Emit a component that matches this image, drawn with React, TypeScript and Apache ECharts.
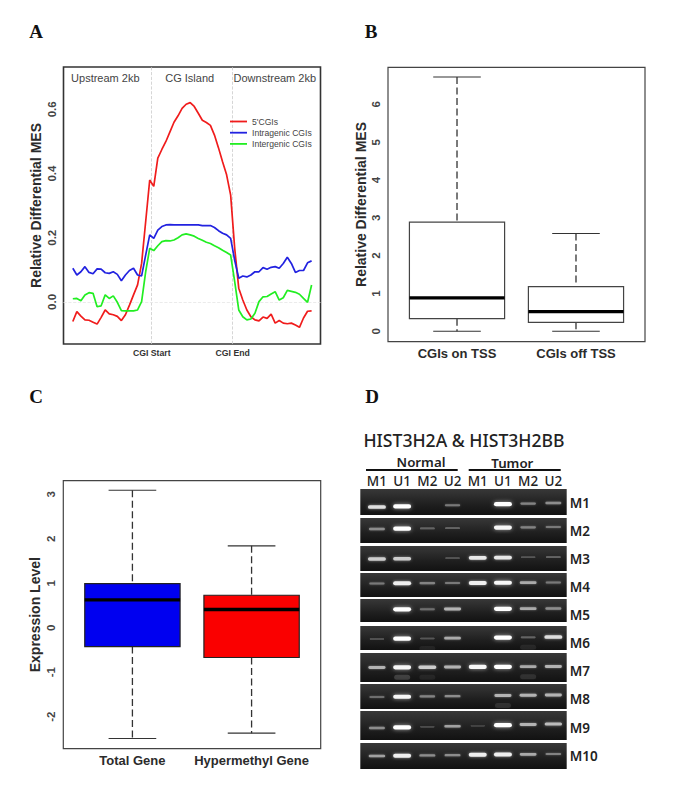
import React, { useEffect, useRef } from "react";
import * as echarts from "echarts";

// Panel A
const redCgi = [-0.061,-0.03,-0.044,-0.056,-0.057,-0.063,-0.069,-0.048,-0.025,-0.037,-0.04,-0.045,-0.058,-0.04,-0.01,0.022,0.053,0.12,0.25,0.38,0.36,0.448,0.475,0.5,0.53,0.56,0.58,0.603,0.616,0.621,0.609,0.588,0.566,0.559,0.55,0.52,0.48,0.437,0.396,0.333,0.167,0.043,0.006,-0.025,-0.046,-0.056,-0.059,-0.047,-0.051,-0.038,-0.066,-0.058,-0.066,-0.068,-0.066,-0.072,-0.079,-0.05,-0.029,-0.028];
const blueCgi = [0.105,0.084,0.094,0.11,0.092,0.088,0.103,0.102,0.091,0.089,0.094,0.086,0.066,0.084,0.098,0.105,0.084,0.081,0.146,0.209,0.198,0.224,0.235,0.24,0.241,0.24,0.24,0.24,0.24,0.24,0.24,0.24,0.238,0.238,0.238,0.232,0.222,0.214,0.209,0.198,0.13,0.074,0.081,0.078,0.084,0.094,0.094,0.107,0.102,0.108,0.11,0.105,0.12,0.139,0.12,0.092,0.098,0.098,0.122,0.128];
const greenCgi = [0.01,0.011,0.004,0.022,0.029,0.027,-0.015,-0.012,0.022,0.011,0.019,-0.001,-0.027,-0.028,-0.028,-0.028,-0.025,0.001,0.094,0.167,0.16,0.175,0.188,0.191,0.19,0.193,0.2,0.209,0.212,0.209,0.205,0.198,0.192,0.186,0.182,0.175,0.169,0.161,0.154,0.146,0.063,-0.025,-0.046,-0.056,-0.053,-0.035,0.001,0.016,0.017,0.025,0.032,0.006,0.013,0.036,0.033,0.03,0.024,0.011,-0.001,0.053];
const seriesNamesA = ["5'CGIs", "Intragenic CGIs", "Intergenic CGIs"];
const regionLabels = ["Upstream 2kb", "CG Island", "Downstream 2kb"];
const cgiMarks = [19.5, 39.5];
const cgiMarkLabels = ["CGI Start", "CGI End"];
const ticksA = [0, 0.2, 0.4, 0.6];

// Panel B: [position, min, Q1, median, Q3, max]
const categoriesB = ["CGIs on TSS", "CGIs off TSS"];
const boxOnTss = [1, 0, 0.335, 0.883, 2.886, 6.725];
const boxOffTss = [2, 0, 0.238, 0.52, 1.183, 2.586];
const ticksB = [0, 1, 2, 3, 4, 5, 6];

// Panel C
const categoriesC = ["Total Gene", "Hypermethyl Gene"];
const boxTotal = [1, -2.49, -0.424, 0.626, 0.993, 3.09];
const boxHyper = [2, -2.37, -0.67, 0.41, 0.73, 1.84];
const ticksC = [-2, -1, 0, 1, 2, 3];

// Panel D: band brightness per row and lane
const laneLabels = ["M1", "U1", "M2", "U2", "M1", "U1", "M2", "U2"];
const rowLabels = ["M1", "M2", "M3", "M4", "M5", "M6", "M7", "M8", "M9", "M10"];
const bandM1 = [0.8, 1, 0, 0.25, 0, 1, 0.3, 0.35];
const bandM2 = [0.35, 1, 0.15, 0.15, 0, 0.95, 0.3, 0.25];
const bandM3 = [0.7, 0.7, 0, 0.08, 0.85, 0.85, 0.1, 0.15];
const bandM4 = [0.25, 0.9, 0.3, 0.25, 0.9, 0.95, 0.5, 0.25];
const bandM5 = [0, 1, 0.2, 0.55, 0, 1, 0.5, 0.35];
const bandM6 = [0.08, 1, 0.1, 0.5, 0, 1, 0.15, 0.8];
const bandM7 = [0.55, 0.95, 0.7, 0.55, 0.95, 1, 0.5, 0.55];
const bandM8 = [0.2, 0.95, 0.3, 0.35, 0, 0.55, 0.55, 0.55];
const bandM9 = [0.35, 1, 0.06, 0.45, 0.03, 1, 0.55, 0.6];
const bandM10 = [0.45, 0.9, 0.35, 0.35, 0.9, 0.9, 0.5, 0.3];
const bandRows = [bandM1, bandM2, bandM3, bandM4, bandM5, bandM6, bandM7, bandM8, bandM9, bandM10];
// Faint secondary smears: [lane, row, brightness]
const ghostBands = [[2, 6, 0.16], [3, 6, 0.06], [7, 6, 0.1], [6, 7, 0.1], [3, 5, 0.06], [7, 5, 0.07]];

// Gel layout along the gel's vertical axis
const GEL_TOP = [0, 29, 57, 84, 110, 137, 164, 195, 222, 254];
const GEL_BOTTOM = [26, 54, 82, 108, 133, 161, 193, 220, 251, 280];
const GEL_BAND = [16, 39, 69, 94, 120, 149, 178, 207, 237, 266];
const GEL_TILT = [4, 2, 2, 1, 1, 2, 1, 2, 4, 2];
const GEL_LABEL = [14, 42, 70, 98, 126, 154, 182, 210, 239, 267];
const LANE_MIN = 0.34;
const LANE_MAX = 8.53;

const SANS = "Liberation Sans";
const SERIF = "Liberation Serif";
const NOTO = "Noto Sans";
const FRAME = "#444";

function boxRender(fill: string, border: string, whisker: string) {
  return (_p: any, api: any) => {
    const x = api.value(0);
    const half = api.size([0.8, 0])[0] / 2;
    const cap = half / 2;
    const [lo, q1, med, q3, hi] = [1, 2, 3, 4, 5].map((d) => api.coord([x, api.value(d)])[1]);
    const cx = api.coord([x, 0])[0];
    const line = (x1: number, y1: number, x2: number, y2: number, style: any) => ({
      type: "line",
      shape: { x1, y1, x2, y2 },
      style: { fill: null, ...style },
    });
    const dash = { stroke: whisker, lineWidth: 1.3, lineDash: [7, 3.5] };
    const solid = { stroke: whisker, lineWidth: 1.1 };
    return {
      type: "group",
      children: [
        line(cx, hi, cx, q3, dash),
        line(cx, q1, cx, lo, dash),
        line(cx - cap, hi, cx + cap, hi, solid),
        line(cx - cap, lo, cx + cap, lo, solid),
        {
          type: "rect",
          shape: { x: cx - half, y: q3, width: half * 2, height: q1 - q3 },
          style: { fill, stroke: border, lineWidth: 1.2 },
        },
        line(cx - half, med, cx + half, med, { stroke: "#000", lineWidth: 3.4 }),
      ],
    };
  };
}

function stripRender(_p: any, api: any) {
  const row = api.value(0);
  const a = api.coord([LANE_MIN, GEL_TOP[row]]);
  const b = api.coord([LANE_MAX, GEL_BOTTOM[row]]);
  return {
    type: "rect",
    shape: { x: a[0], y: a[1], width: b[0] - a[0], height: b[1] - a[1] },
    style: {
      fill: {
        type: "linear", x: 0, y: 0, x2: 0, y2: 1,
        colorStops: [
          { offset: 0, color: "#383838" },
          { offset: 0.6, color: "#1f1f1f" },
          { offset: 1, color: "#121212" },
        ],
      },
    },
  };
}

function bandY(lane: number, row: number) {
  return GEL_BAND[row] + GEL_TILT[row] * (0.5 - (lane - 1) / 7);
}

function bandRender(_p: any, api: any) {
  const lane = api.value(0);
  const row = api.value(1);
  const level = api.value(2);
  if (!level) return null;
  const c = api.coord([lane, bandY(lane, row)]);
  const w = 12 + 6 * Math.min(1, level + 0.3);
  const h = 1.3 + 3 * level;
  const g = Math.round(55 + 200 * Math.pow(level, 0.8));
  return {
    type: "rect",
    shape: { x: c[0] - w / 2, y: c[1] - h / 2, width: w, height: h, r: h / 2 },
    style: {
      fill: `rgb(${g},${g},${g})`,
      shadowBlur: 1 + 3 * level,
      shadowColor: `rgba(255,255,255,${0.1 + 0.5 * level})`,
    },
  };
}

function ghostRender(_p: any, api: any) {
  const lane = api.value(0);
  const row = api.value(1);
  const level = api.value(2);
  const c = api.coord([lane, bandY(lane, row) + 10]);
  return {
    type: "rect",
    shape: { x: c[0] - 8, y: c[1] - 2.5, width: 16, height: 5, r: 2.5 },
    style: { fill: `rgba(255,255,255,${level})`, shadowBlur: 4, shadowColor: `rgba(255,255,255,${level})` },
  };
}

function rotatedYAxis(gridIndex: number, min: number, max: number, ticks: number[], name: string, nameGap: number, fmt: (v: number) => string, nameSize = 14) {
  return {
    type: "value", gridIndex, min, max,
    name, nameLocation: "middle", nameGap, nameRotate: 90,
    nameTextStyle: { fontFamily: SANS, fontWeight: "bold", fontSize: nameSize, color: "#2b2b2b" },
    axisLine: { show: false },
    axisTick: { show: false },
    splitLine: { show: false },
    axisLabel: {
      customValues: ticks, rotate: 90, margin: 6, fontFamily: SANS, fontWeight: "bold", fontSize: 11.5, color: "#444",
      formatter: fmt,
    },
  };
}

function boxXAxis(gridIndex: number, labels: string[], tick: boolean) {
  return {
    type: "value", gridIndex, min: 0.42, max: 2.58,
    axisLine: { show: false },
    splitLine: { show: false },
    axisTick: { show: tick, customValues: [1, 2], length: 3, lineStyle: { color: "#999" } },
    axisLabel: {
      customValues: [1, 2], margin: 5, fontFamily: SANS, fontWeight: "bold", fontSize: 13, color: "#2b2b2b",
      formatter: (v: number) => labels[v - 1],
    },
  };
}

const labelText = (x: number, y: number, text: string, font: any) => ({
  type: "text", x, y,
  style: { text, align: "center", verticalAlign: "middle", ...font },
});

export default function App() {
  const ref = useRef<HTMLDivElement>(null);
  useEffect(() => {
    document.body.style.margin = "0";
    const chart = echarts.init(ref.current!, undefined, { renderer: "svg" });
    const xIndex = redCgi.map((_, i) => i);
    const lineSeries = (name: string, values: number[], color: string, extra: any = {}) => ({
      type: "line", name, xAxisIndex: 0, yAxisIndex: 0, showSymbol: false, symbol: "none",
      data: xIndex.map((i) => [i, values[i]]),
      lineStyle: { color, width: 1.7 }, itemStyle: { color }, z: 3, ...extra,
    });
    const gelBands: number[][] = [];
    bandRows.forEach((row, r) => row.forEach((v, l) => gelBands.push([l + 1, r, v])));

    chart.setOption({
      animation: false,
      backgroundColor: "#fff",
      textStyle: { fontFamily: SANS },
      legend: {
        left: 230, top: 117, orient: "vertical", padding: 0, icon: "rect", itemWidth: 17, itemHeight: 1.8, itemGap: 2.2,
        data: seriesNamesA, selectedMode: false,
        textStyle: { fontFamily: SANS, fontSize: 8.6, color: "#444" },
      },
      grid: [
        { left: 63.5, top: 67, width: 257, height: 277, show: true, borderColor: "#333", borderWidth: 1.6, backgroundColor: "#fff" },
        { left: 388, top: 67.3, width: 257, height: 274.4, show: true, borderColor: FRAME, borderWidth: 1.2, backgroundColor: "#fff" },
        { left: 63.3, top: 480.7, width: 257.4, height: 268, show: true, borderColor: FRAME, borderWidth: 1.2, backgroundColor: "#fff" },
        { left: 360.3, top: 489, width: 206.4, height: 280, show: false },
      ],
      xAxis: [
        {
          type: "value", gridIndex: 0, min: -2.3, max: 61.2,
          axisLine: { show: false }, splitLine: { show: false },
          axisTick: { show: false },
          axisLabel: {
            customValues: cgiMarks, margin: 4, fontFamily: SANS, fontWeight: "bold", fontSize: 8.7, color: "#333",
            formatter: (v: number) => cgiMarkLabels[cgiMarks.indexOf(v)],
          },
        },
        boxXAxis(1, categoriesB, false),
        boxXAxis(2, categoriesC, true),
        {
          type: "value", gridIndex: 3, position: "top", min: LANE_MIN, max: LANE_MAX,
          axisLine: { show: false }, axisTick: { show: false }, splitLine: { show: false },
          axisLabel: {
            customValues: [1, 2, 3, 4, 5, 6, 7, 8], margin: 1, fontFamily: NOTO, fontWeight: 500, fontSize: 13.5, color: "#222",
            formatter: (v: number) => laneLabels[v - 1],
          },
        },
      ],
      yAxis: [
        rotatedYAxis(0, -0.131, 0.732, ticksA, "Relative Differential MES", 21, (v) => v.toFixed(1)),
        rotatedYAxis(1, -0.275, 6.98, ticksB, "Relative Differential MES", 20.5, (v) => String(v)),
        rotatedYAxis(2, -2.72, 3.305, ticksC, "Expression Level", 21.5, (v) => String(v)),
        {
          type: "value", gridIndex: 3, position: "right", inverse: true, min: 0, max: 280,
          axisLine: { show: false }, axisTick: { show: false }, splitLine: { show: false },
          axisLabel: {
            customValues: GEL_LABEL, margin: 3, fontFamily: NOTO, fontWeight: 600, fontSize: 13.5, color: "#222",
            formatter: (v: number) => rowLabels[GEL_LABEL.indexOf(v)],
          },
        },
      ],
      series: [
        lineSeries(seriesNamesA[0], redCgi, "#f01c1c", {
          markLine: {
            silent: true, symbol: "none", label: { show: false }, z: 1,
            data: [
              { xAxis: cgiMarks[0], lineStyle: { color: "#ccc", type: "dashed", width: 0.8 } },
              { xAxis: cgiMarks[1], lineStyle: { color: "#ccc", type: "dashed", width: 0.8 } },
              { yAxis: 0, lineStyle: { color: "#e6e6e6", type: "dashed", width: 0.8 } },
            ],
          },
        }),
        lineSeries(seriesNamesA[1], blueCgi, "#2222e0"),
        lineSeries(seriesNamesA[2], greenCgi, "#22ee22"),
        {
          type: "custom", xAxisIndex: 1, yAxisIndex: 1, renderItem: boxRender("#fff", "#444", "#333"),
          data: [boxOnTss, boxOffTss], encode: { x: 0, y: [1, 2, 3, 4, 5] }, silent: true,
        },
        {
          type: "custom", xAxisIndex: 2, yAxisIndex: 2, renderItem: boxRender("#0000f0", "#222", "#333"),
          data: [boxTotal], encode: { x: 0, y: [1, 2, 3, 4, 5] }, silent: true,
        },
        {
          type: "custom", xAxisIndex: 2, yAxisIndex: 2, renderItem: boxRender("#fa0000", "#222", "#333"),
          data: [boxHyper], encode: { x: 0, y: [1, 2, 3, 4, 5] }, silent: true,
        },
        {
          type: "custom", xAxisIndex: 3, yAxisIndex: 3, renderItem: stripRender,
          data: rowLabels.map((_, i) => [i]), encode: { y: 0 }, silent: true, z: 2, clip: false,
        },
        {
          type: "custom", xAxisIndex: 3, yAxisIndex: 3, renderItem: ghostRender,
          data: ghostBands, encode: { x: 0, y: 1 }, silent: true, z: 3,
        },
        {
          type: "custom", xAxisIndex: 3, yAxisIndex: 3, renderItem: bandRender,
          data: gelBands, encode: { x: 0, y: 1 }, silent: true, z: 4,
        },
      ],
      graphic: [
        labelText(36, 31, "A", { font: `bold 19px "${SERIF}"`, fill: "#111" }),
        labelText(371, 31, "B", { font: `bold 19px "${SERIF}"`, fill: "#111" }),
        labelText(36, 396, "C", { font: `bold 19px "${SERIF}"`, fill: "#111" }),
        labelText(372, 396, "D", { font: `bold 19px "${SERIF}"`, fill: "#111" }),
        labelText(105.3, 77.7, regionLabels[0], { font: `11px "${SANS}"`, fill: "#444" }),
        labelText(189.7, 77.7, regionLabels[1], { font: `11px "${SANS}"`, fill: "#444" }),
        labelText(274.8, 77.7, regionLabels[2], { font: `11px "${SANS}"`, fill: "#444" }),
        labelText(464, 440, "HIST3H2A & HIST3H2BB", { font: `500 17.6px "${NOTO}"`, fill: "#222" }),
        labelText(421, 462, "Normal", { font: `600 13.3px "${NOTO}"`, fill: "#222" }),
        labelText(512.3, 463, "Tumor", { font: `600 13.3px "${NOTO}"`, fill: "#222" }),
        { type: "line", shape: { x1: 366, y1: 470, x2: 457.7, y2: 470 }, style: { stroke: "#111", lineWidth: 1.8 } },
        { type: "line", shape: { x1: 468.7, y1: 470, x2: 560.7, y2: 470 }, style: { stroke: "#111", lineWidth: 1.8 } },
      ],
    });
    return () => chart.dispose();
  }, []);
  return <div ref={ref} style={{ width: 685, height: 794 }} />;
}
